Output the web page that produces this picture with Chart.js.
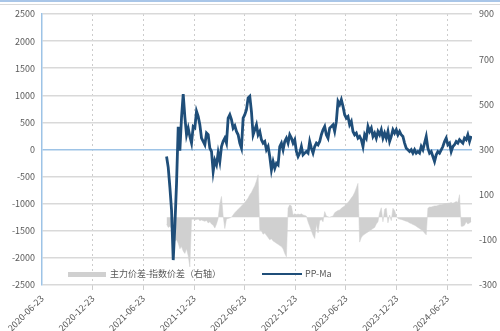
<!DOCTYPE html>
<html>
<head>
<meta charset="utf-8">
<script src="https://cdn.jsdelivr.net/npm/chart.js@4.4.0/dist/chart.umd.min.js"></script>
<style>
  html, body { margin: 0; padding: 0; background: #fff; }
  #wrap { position: relative; width: 500px; height: 331px; overflow: hidden; }
  #topbar { position: absolute; left: 0; top: 0; width: 500px; height: 2px; background: #a9c6e8; }
  #topline { position: absolute; left: 0; top: 4px; width: 500px; height: 1px; background: #d9d9d9; }
  canvas { position: absolute; left: 0; top: 0; }
  .lg { position: absolute; font: 9px "Noto Sans CJK SC", sans-serif; color: #595959; line-height: 12px; white-space: nowrap; }
</style>
</head>
<body>
<div id="wrap">
  <canvas id="spreadChart" width="500" height="331"></canvas>
  <div id="topbar"></div>
  <div id="topline"></div>
  <div class="lg" style="left:68px; top:272px; width:38px; height:5px; background:#d0d0d0;"></div>
  <div class="lg" style="left:110px; top:268px;">主力价差-指数价差（右轴）</div>
  <div class="lg" style="left:262px; top:273px; width:40px; height:2px; background:#1f4e79;"></div>
  <div class="lg" style="left:305px; top:268px;">PP-Ma</div>
</div>
<script>
// axis setup
const axisStart = '2020-06-23';
const axisEnd = '2024-09-20';
const tickLabels = ['2020-06-23', '2020-12-23', '2021-06-23', '2021-12-23', '2022-06-23',
  '2022-12-23', '2023-06-23', '2023-12-23', '2024-06-23'];
const leftTicks = [-2500, -2000, -1500, -1000, -500, 0, 500, 1000, 1500, 2000, 2500];
const rightTicks = [-300, -100, 100, 300, 500, 700, 900];

// series sampled every 6 days from seriesStart
const seriesStart = '2021-09-15';
const stepDays = 6;

// PP-Ma (left axis)
const lineValues = [
  -130, -330, -700, -1120, -2040, -1400, -620, 420, -20, 600,
  1020, 600, 270, 395, 240, 118, 425, 400, 705, 610,
  457, 210, 148, 87, 303, 272, 25, -37, -407, -200,
  -283, -60, -222, 55, 150, 210, 118, 580, 642, 550,
  395, 440, 333, 272, 118, 25, 580, 642, 735, 950,
  980, 700, 272, 365, 457, 272, 333, 180, 118, 148,
  -5, 55, -130, -376, -222, -345, -253, -283, 55, 118,
  -5, 148, 210, 118, 272, 210, 118, 180, -37, -130,
  -67, 55, -98, -67, -37, -67, 148, 25, -67, 55,
  118, 87, 148, 272, 365, 425, 272, 210, 395, 425,
  457, 333, 518, 890, 830, 920, 795, 642, 580, 610,
  457, 518, 333, 272, 303, 210, 241, 180, 55, 272,
  210, 425, 333, 395, 241, 303, 210, 333, 272, 365,
  210, 303, 210, 333, 148, 241, 365, 303, 365, 272,
  333, 272, 241, 118, 25, -5, -37, -5, -67, -5,
  -67, -37, -67, 55, -5, 118, 241, 25, -67, -37,
  -130, -222, -98, -37, -67, -5, 55, 148, 210, 87,
  118, -37, 55, 87, 148, 118, 180, 148, 118, 210,
  180, 272, 148, 250
];

// 主力价差-指数价差 (right axis)
const areaValues = [
  -30, -45, -40, -50, -90, -105, -100, -115, -140, -130,
  -150, -160, -140, -170, -220, -10, -8, -12, -10, -8,
  -15, -12, -15, -18, -14, -25, -20, -30, -35, -48,
  -30, -5, 60, 92, 5, -50, -8, -5, -3, 0,
  10, 20, 28, 35, 42, 50, 58, 65, 75, 85,
  100, 110, 125, 140, 160, 188, -55, -60, -75, -70,
  -80, -90, -100, -95, -105, -110, -115, -120, -125, -130,
  -140, -160, -175, 40, 55, 50, 10, 15, 12, 14,
  12, 15, 10, 8, 5, -20, -40, -60, -80, -94,
  -30, -70, -15, -10, -20, 25, 5, 2, 0, 3,
  5, 20, 25, 30, 32, 40, 45, 50, 58, 65,
  75, 85, 95, 110, 130, 150, -110, -90, -80, -75,
  -70, -65, -60, -55, -50, -45, -30, -20, 20, 42,
  -20, 35, 40, -25, 10, -15, 40, 30, 5, -5,
  -8, -10, -12, -15, -18, -20, -25, -28, -32, -35,
  -40, -45, -50, -55, -60, -70, -78, 40, 45, 45,
  48, 50, 50, 52, 55, 55, 58, 60, 60, 62,
  63, 65, 62, 65, 70, 65, 100, -40, -40, -35,
  -20, -30, -25, -20
];

const textColor = '#595959';
const fontFamily = '"Noto Sans CJK SC", sans-serif';

function dayOf(s) {
  const p = s.split('-').map(Number);
  const a = axisStart.split('-').map(Number);
  return (Date.UTC(p[0], p[1] - 1, p[2]) - Date.UTC(a[0], a[1] - 1, a[2])) / 86400000;
}

const firstDay = dayOf(seriesStart);
const tickDays = tickLabels.map(dayOf);
const toPoints = (vals) => vals.map((v, i) => ({ x: firstDay + i * stepDays, y: v }));

const ctx = document.getElementById('spreadChart').getContext('2d');

new Chart(ctx, {
  type: 'line',
  data: {
    datasets: [
      {
        label: 'PP-Ma',
        data: toPoints(lineValues),
        yAxisID: 'y',
        borderColor: '#1f4e79',
        borderWidth: 2.8,
        pointRadius: 0,
        tension: 0,
        fill: false
      },
      {
        label: '主力价差-指数价差（右轴）',
        data: toPoints(areaValues),
        yAxisID: 'y1',
        borderColor: '#d0d0d0',
        backgroundColor: '#d0d0d0',
        borderWidth: 0.5,
        pointRadius: 0,
        tension: 0,
        fill: 'origin'
      }
    ]
  },
  options: {
    responsive: false,
    animation: false,
    layout: { padding: { top: 14, left: 0, right: 0, bottom: 0 } },
    plugins: {
      legend: { display: false },
      tooltip: { enabled: false }
    },
    scales: {
      x: {
        type: 'linear',
        min: 0,
        max: dayOf(axisEnd),
        afterBuildTicks: (s) => { s.ticks = tickDays.map((v) => ({ value: v })); },
        afterFit: (s) => { s.height = 46; },
        ticks: {
          autoSkip: false,
          minRotation: 45,
          maxRotation: 45,
          padding: 3,
          color: textColor,
          font: { size: 9, family: fontFamily },
          callback: (v) => tickLabels[tickDays.indexOf(v)]
        },
        grid: {
          color: (c) => (c.index === 0 ? 'rgba(0,0,0,0)' : '#cccccc'),
          lineWidth: 1,
          tickLength: 5
        },
        border: { display: false, dash: [2, 3] }
      },
      y: {
        position: 'left',
        min: -2500,
        max: 2500,
        afterBuildTicks: (s) => { s.ticks = leftTicks.map((v) => ({ value: v })); },
        afterFit: (s) => { s.width = 42; },
        ticks: {
          padding: 7,
          color: textColor,
          font: { size: 9, family: fontFamily },
          callback: (v) => String(v)
        },
        grid: {
          color: (c) => (c.tick && c.tick.value === 0 ? '#9dc3e6' : '#d9d9d9'),
          lineWidth: 1.5,
          drawTicks: false
        },
        border: { display: true, color: '#9dc3e6', width: 1.5 }
      },
      y1: {
        position: 'right',
        min: -300,
        max: 900,
        afterBuildTicks: (s) => { s.ticks = rightTicks.map((v) => ({ value: v })); },
        afterFit: (s) => { s.width = 28; },
        ticks: {
          padding: 7,
          color: textColor,
          font: { size: 9, family: fontFamily },
          callback: (v) => String(v)
        },
        grid: { display: false, drawTicks: false },
        border: { display: false }
      }
    }
  }
});
</script>
</body>
</html>
